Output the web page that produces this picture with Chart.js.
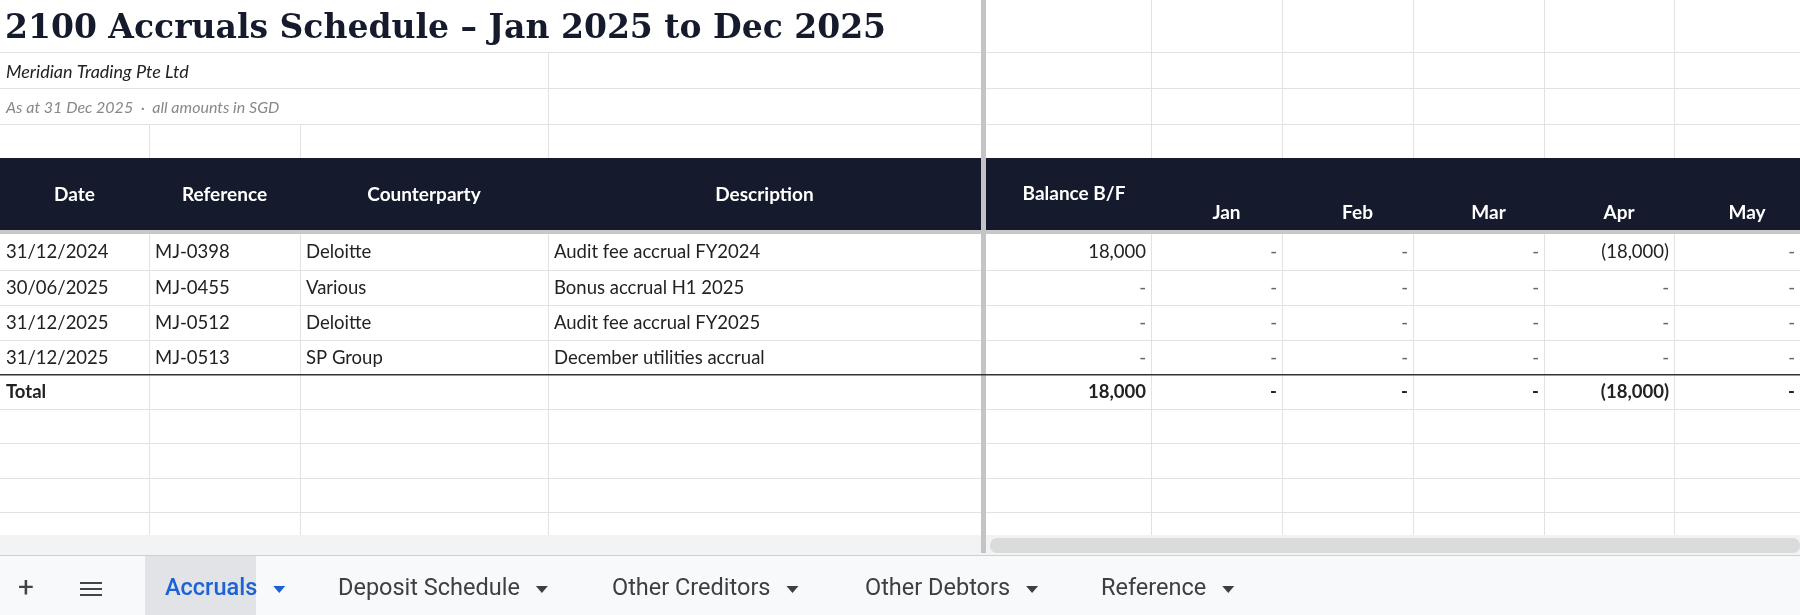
<!DOCTYPE html>
<html><head><meta charset="utf-8">
<script src="https://cdn.jsdelivr.net/npm/chart.js@4"></script>
<style>html,body{margin:0;padding:0;background:#fff;overflow:hidden}#c{display:block}</style>
</head><body><div style="width:1800px;height:615px"><canvas id="c"></canvas></div>
<script>
const title = "2100 Accruals Schedule \u2013 Jan 2025 to Dec 2025";
const company = "Meridian Trading Pte Ltd";
const subtitle = "As at 31 Dec 2025  \u00b7  all amounts in SGD";
const leftHeaders = ["Date","Reference","Counterparty","Description"];
const rightHeaders = ["Balance B/F","Jan","Feb","Mar","Apr","May"];
const dates = ["31/12/2024","30/06/2025","31/12/2025","31/12/2025"];
const refs = ["MJ-0398","MJ-0455","MJ-0512","MJ-0513"];
const parties = ["Deloitte","Various","Deloitte","SP Group"];
const descs = ["Audit fee accrual FY2024","Bonus accrual H1 2025","Audit fee accrual FY2025","December utilities accrual"];
const balanceBF = [18000,0,0,0];
const janVals = [0,0,0,0];
const febVals = [0,0,0,0];
const marVals = [0,0,0,0];
const aprVals = [-18000,0,0,0];
const mayVals = [0,0,0,0];
const tabs = ["Accruals","Deposit Schedule","Other Creditors","Other Debtors","Reference"];

const colEdges = [0,149,300,548,981,1151,1282,1413,1544,1674,1800];
const rowEdges = [0,52,88,124,158,232,270,305,340,374,409,443,478,512,535];
const valueCols = [balanceBF,janVals,febVals,marVals,aprVals,mayVals];
const totals = valueCols.map(a=>a.reduce((s,v)=>s+v,0));
function fmt(v){ if(v===0) return "-"; const s=Math.abs(v).toLocaleString("en-US"); return v<0?"("+s+")":s; }

const BODY = '"Lato", "Open Sans", sans-serif';
const tablePlugin = {
  id:'table',
  afterDraw(chart){
    const ctx=chart.ctx, X=v=>chart.scales.x.getPixelForValue(v), Y=v=>chart.scales.y.getPixelForValue(v);
    ctx.save();
    ctx.strokeStyle='#e2e2e2'; ctx.lineWidth=1;
    for(let i=1;i<rowEdges.length;i++){ ctx.beginPath(); ctx.moveTo(0,Y(rowEdges[i])+0.5); ctx.lineTo(1800,Y(rowEdges[i])+0.5); ctx.stroke(); }
    for(let j=1;j<colEdges.length-1;j++){
      const x=X(colEdges[j])+0.5;
      let y0=0; if(j===1||j===2) y0=124; if(j===3) y0=52;
      ctx.beginPath(); ctx.moveTo(x,Y(y0)); ctx.lineTo(x,Y(535)); ctx.stroke();
    }
    ctx.fillStyle='#151b2c'; ctx.fillRect(0,Y(158),1800,Y(232)-Y(158));
    ctx.fillStyle='#c8c8c8'; ctx.fillRect(0,Y(230),1800,4);
    ctx.fillStyle='#c4c4c4'; ctx.fillRect(X(981),0,5,Y(535));
    ctx.fillStyle='#333'; ctx.fillRect(0,Y(374),1800,1.5);
    ctx.fillStyle='#151b2c'; ctx.textBaseline='middle';
    ctx.font='bold 33px "DejaVu Serif", "Liberation Serif", serif'; ctx.textAlign='left';
    ctx.fillText(title,5,Y(29));
    ctx.font='italic 18px '+BODY; ctx.fillStyle='#222'; ctx.fillText(company,6,Y(72));
    ctx.font='italic 16px '+BODY; ctx.fillStyle='#888'; ctx.fillText(subtitle,6,Y(108));
    ctx.fillStyle='#fff'; ctx.font='bold 19px '+BODY; ctx.textAlign='center';
    leftHeaders.forEach((h,i)=>ctx.fillText(h,(X(colEdges[i])+X(colEdges[i+1]))/2,Y(195)));
    ctx.fillText(rightHeaders[0],(X(colEdges[4])+X(colEdges[5]))/2+8,Y(194));
    for(let k=1;k<rightHeaders.length;k++) ctx.fillText(rightHeaders[k],(X(colEdges[k+4])+X(colEdges[k+5]))/2+10,Y(213));
    ctx.font='18.5px '+BODY; ctx.fillStyle='#222';
    const leftCols=[dates,refs,parties,descs];
    for(let r=0;r<dates.length;r++){
      const yc=(Y(rowEdges[5+r])+Y(rowEdges[6+r]))/2+1;
      ctx.textAlign='left';
      leftCols.forEach((col,c)=>ctx.fillText(col[r],X(colEdges[c])+6,yc));
      ctx.textAlign='right';
      valueCols.forEach((col,c)=>{ ctx.fillStyle=col[r]===0?'#666':'#222'; ctx.fillText(fmt(col[r]),X(colEdges[c+5])-5,yc); });
      ctx.fillStyle='#222';
    }
    const yt=(Y(374)+Y(409))/2+1;
    ctx.font='bold 18.5px '+BODY; ctx.textAlign='left'; ctx.fillText('Total',6,yt);
    ctx.textAlign='right';
    totals.forEach((t,c)=>ctx.fillText(fmt(t),X(colEdges[c+5])-5,yt));
    ctx.fillStyle='#f1f3f4'; ctx.fillRect(0,Y(535),1800,Y(556)-Y(535));
    ctx.fillStyle='#dadcdc'; ctx.beginPath(); ctx.roundRect(X(990),Y(538),810,15,7); ctx.fill();
    ctx.fillStyle='#c4c4c4'; ctx.fillRect(X(981),Y(535),5,Y(553)-Y(535));
    ctx.fillStyle='#d0d0d0'; ctx.fillRect(0,Y(555),1800,1.5);
    ctx.fillStyle='#f8f9fa'; ctx.fillRect(0,Y(556),1800,615-Y(556));
    ctx.fillStyle='#e1e3e6'; ctx.fillRect(X(145),Y(556),X(256)-X(145),615-Y(556));
    ctx.fillStyle='#444'; ctx.font='28px Roboto'; ctx.textAlign='center';
    ctx.fillText('+',26,Y(589));
    ctx.fillRect(80,Y(582),22,2); ctx.fillRect(80,Y(588),22,2); ctx.fillRect(80,Y(594),22,2);
    const tabX=[165,338,612,865,1101];
    ctx.textAlign='left';
    tabs.forEach((t,i)=>{
      ctx.fillStyle=i===0?'#1a62d6':'#3c4043';
      ctx.font=(i===0?'500 ':'')+'23.5px Roboto';
      ctx.fillText(t,tabX[i],Y(589));
      const w=ctx.measureText(t).width, ax=tabX[i]+w+22;
      ctx.beginPath(); ctx.moveTo(ax-6,Y(586)); ctx.lineTo(ax+6,Y(586)); ctx.lineTo(ax,Y(593)); ctx.closePath(); ctx.fill();
    });
    ctx.restore();
  }
};
new Chart(document.getElementById('c'),{
  type:'scatter',
  data:{datasets:[{data:[{x:0,y:0},{x:1800,y:615}],pointRadius:0}]},
  options:{responsive:true,maintainAspectRatio:false,animation:false,
    layout:{padding:0},
    plugins:{legend:{display:false},tooltip:{enabled:false}},
    scales:{x:{type:'linear',min:0,max:1800,display:false},y:{type:'linear',min:0,max:615,reverse:true,display:false}}},
  plugins:[tablePlugin]
});
</script></body></html>
